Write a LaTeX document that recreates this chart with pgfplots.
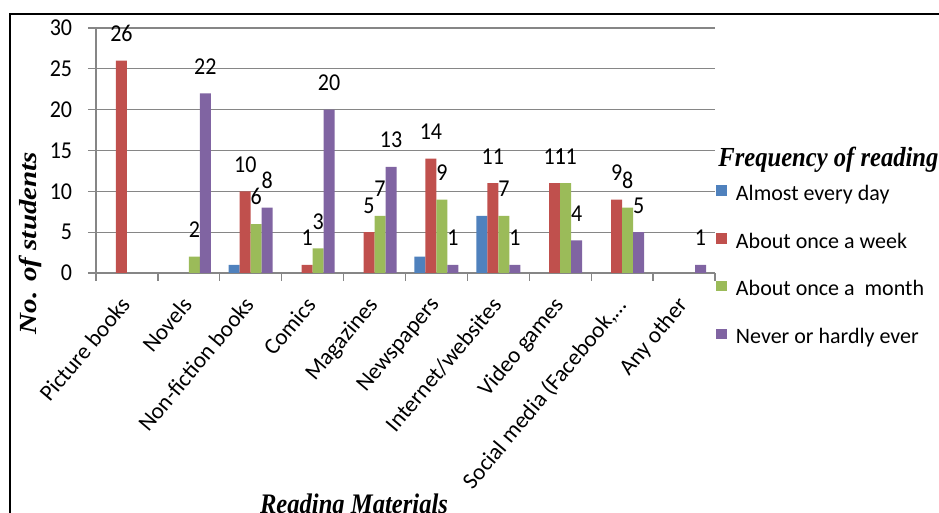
\documentclass[border=0pt]{standalone}
\usepackage{pgfplots}
\pgfplotsset{compat=1.18}
\usepackage{fontspec}
\setmainfont{Carlito}
\newfontfamily\tnr{Liberation Serif}
\definecolor{cBlue}{RGB}{79,129,189}
\definecolor{cRed}{RGB}{192,80,77}
\definecolor{cGreen}{RGB}{155,187,89}
\definecolor{cPurple}{RGB}{128,100,162}
\definecolor{gridgray}{RGB}{134,134,134}
\begin{document}
\begin{tikzpicture}
\useasboundingbox (0,0) rectangle (469.5pt,-256.5pt);
\draw[line width=1.1pt] (5pt,-256.5pt) -- (5pt,-7pt) -- (469.5pt,-7pt);
\begin{axis}[
  at={(48pt,-136.5pt)}, anchor=south west,
  scale only axis, width=309.5pt, height=122.5pt,
  ybar=0pt, bar width=5.5pt,
  xmin=-0.5, xmax=9.5, ymin=0, ymax=30,
  ytick={0,5,...,30},
  xtick={-0.5,0.5,...,9.5},
  x tick label as interval,
  xticklabels={Picture books, Novels, Non-fiction books, Comics, Magazines, Newspapers, Internet/websites, Video games, {Social media (Facebook,…}, Any other},
  axis x line*=bottom, axis y line*=left,
  axis line style={-, draw=gridgray, line width=0.65pt},
  tick align=outside, major tick length=4pt,
  tick style={draw=gridgray, line width=0.65pt},
  ymajorgrids, grid style={draw=gridgray, line width=0.65pt},
  /pgf/number format/assume math mode=true,
  tick label style={font=\fontsize{11pt}{13pt}\selectfont, text=black},
  yticklabel style={anchor=east, inner sep=0pt, xshift=-7.75pt, yscale=1.1},
  xticklabel style={xshift=-4pt, rotate=50, anchor=north east, inner sep=0pt, font=\fontsize{11.5pt}{13.5pt}\selectfont},
  xticklabel shift=7pt,
  ylabel={No. of students},
  ylabel style={at={(axis description cs:-0.1066,0.1224)}, anchor=center, font=\tnr\bfseries\itshape\fontsize{12.3pt}{14pt}\selectfont, xscale=1.18},
  xlabel={Reading Materials},
  xlabel style={at={(axis description cs:0.4168,-0.983)}, anchor=base, font=\tnr\bfseries\itshape\fontsize{12.3pt}{14pt}\selectfont, yscale=1.15},
  nodes near coords style={font=\fontsize{11pt}{13pt}\selectfont, anchor=south, inner sep=0pt, yshift=9.25pt, text=black, yscale=1.1},
  legend image code/.code={\fill[#1] (0pt,-0.3pt) rectangle (5.3pt,5pt);},
  legend cell align=left,
  legend style={at={(1.0016,0.359)}, anchor=north west, draw=none, fill=none, inner sep=0pt,
    row sep=13.85pt, column sep=4.5pt, font=\fontsize{11pt}{13pt}\selectfont,
    nodes={inner sep=0pt, text height=7.5pt, text depth=2.5pt}},
]
\addplot[fill=cBlue, draw=none] coordinates {(2,1) (5,2) (6,7)};
\addlegendentry{Almost every day}
\addplot[fill=cRed, draw=none, nodes near coords] coordinates {(0,26) (2,10) (3,1) (4,5) (5,14) (6,11) (7,11) (8,9)};
\addlegendentry{About once a week}
\addplot[fill=cGreen, draw=none, nodes near coords] coordinates {(1,2) (2,6) (3,3) (4,7) (5,9) (6,7) (7,11) (8,8)};
\addlegendentry{About once a\ \ month}
\addplot[fill=cPurple, draw=none, nodes near coords] coordinates {(1,22) (2,8) (3,20) (4,13) (5,1) (6,1) (7,4) (8,5) (9,1)};
\addlegendentry{Never or hardly ever}
\end{axis}
\node[anchor=base west, inner sep=0pt, font=\tnr\bfseries\itshape\fontsize{12.3pt}{14pt}\selectfont, yscale=1.12] at (359pt,-83.5pt) {Frequency of reading};
\end{tikzpicture}
\end{document}
